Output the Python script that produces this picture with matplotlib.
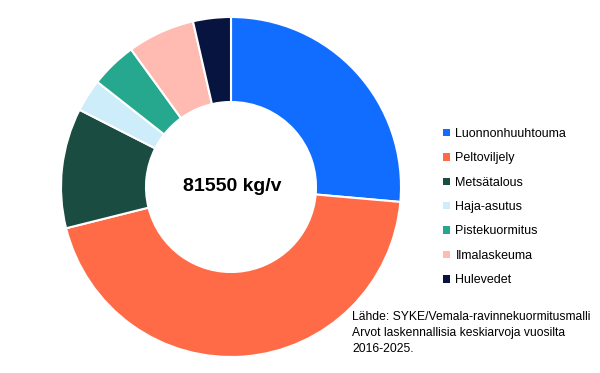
import matplotlib.pyplot as plt
import numpy as np

# nutrient load by source, kg per year
labels = ['Luonnonhuuhtouma', 'Peltoviljely', 'Metsätalous', 'Haja-asutus',
          'Pistekuormitus', 'Ilmalaskeuma', 'Hulevedet']
values = [21530, 36450, 9300, 2530, 3590, 5220, 2930]
colors = ['#116DFF', '#FF6A47', '#1B4C42', '#CDEDFA', '#26A88F', '#FFBAB1', '#06143F']
total_text = '81550 kg/v'
source_lines = ['Lähde: SYKE/Vemala-ravinnekuormitusmalli',
                'Arvot laskennallisia keskiarvoja vuosilta',
                '2016-2025.']

plt.rcParams['font.family'] = ['Liberation Sans', 'DejaVu Sans']

fig = plt.figure(figsize=(6, 3.73), dpi=100)
W, H = 600, 373
cx, cy, r = 231, 187, 170
ax = fig.add_axes([(cx - r) / W, (H - cy - r) / H, 2 * r / W, 2 * r / H])

wedges, _ = ax.pie(values, colors=colors, startangle=90, counterclock=False,
                   wedgeprops=dict(width=0.5, edgecolor='white', linewidth=1.5))
ax.set_xlim(-1, 1)
ax.set_ylim(-1, 1)
ax.set_aspect('equal')

ax.text(0.01, 0, total_text, ha='center', va='center', fontsize=14, fontweight='bold')

## legend on the right, small square keys
fig.legend(wedges, labels, loc='upper left', bbox_to_anchor=(443 / W, 1 - 128 / H),
           frameon=False, fontsize=9, handlelength=0.55, handleheight=0.55,
           handletextpad=0.45, labelspacing=0.99,
           borderpad=0, borderaxespad=0)
for h in fig.legends[0].legend_handles:
    h.set_linewidth(0)

fig.text(352 / W, 1 - 333 / H, '\n'.join(source_lines), ha='left', va='center',
         fontsize=8.7, linespacing=1.45)

fig.savefig('out.png', dpi=100)
